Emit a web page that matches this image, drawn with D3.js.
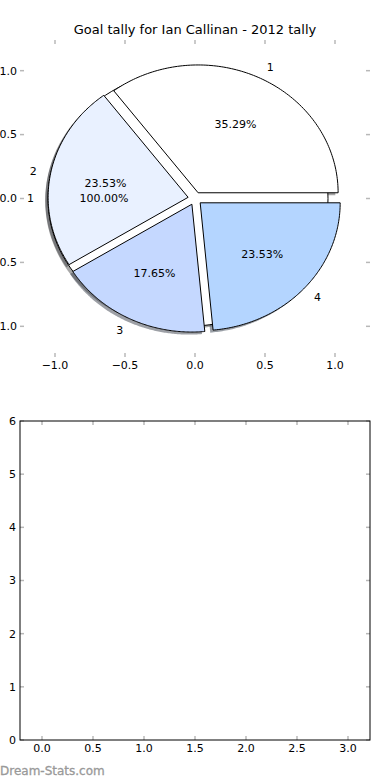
<!DOCTYPE html>
<html>
<head>
<meta charset="utf-8">
<script src="https://cdn.jsdelivr.net/npm/d3@7"></script>
<style>
  body { margin: 0; background: #fff; }
  text { font-family: "DejaVu Sans", sans-serif; }
</style>
</head>
<body>
<script>
// chart data
const title = 'Goal tally for Ian Callinan - 2012 tally';
const sliceLabels = ['1', '2', '3', '4'];
const sliceValues = [6, 4, 3, 4];          // 35.29%, 23.53%, 17.65%, 23.53%
const sliceColors = ['#ffffff', '#e9f1ff', '#c5d8ff', '#b4d5ff'];
const totalLabels = ['1'];
const totalValues = [1];                  // 100.00%
const pieTicks = [-1.0, -0.5, 0.0, 0.5, 1.0];
const barXTicks = [0.0, 0.5, 1.0, 1.5, 2.0, 2.5, 3.0];
const barYTicks = [0, 1, 2, 3, 4, 5, 6];

const explode = 0.05;
const W = 390, H = 780;

const svg = d3.select('body').append('svg')
  .attr('width', W)
  .attr('height', H);

// ---- top axes (pie) ----
const px = d3.scaleLinear().domain([-1.25, 1.25]).range([20, 370]);
const py = d3.scaleLinear().domain([-1.24, 1.24]).range([357, 40]);

svg.append('text')
  .attr('x', 195).attr('y', 34)
  .attr('text-anchor', 'middle')
  .style('font-size', '13px')
  .text(title);

// d3.pie goes clockwise from 12 o'clock; flip it to matplotlib's ccw from 3 o'clock
const pie = d3.pie().sort(null).startAngle(Math.PI / 2).endAngle(Math.PI / 2 - 2 * Math.PI);
const toMath = a => Math.PI / 2 - a;

function wedgePoints(d, dx, dy) {
  const t0 = toMath(d.startAngle), t1 = toMath(d.endAngle);
  const mid = (t0 + t1) / 2;
  const cx = explode * Math.cos(mid) + dx, cy = explode * Math.sin(mid) + dy;
  const full = Math.abs(t1 - t0) > 2 * Math.PI - 1e-6;
  const pts = full ? [] : [[cx, cy]];
  const n = 120;
  for (let i = 0; i <= n; i++) {
    const t = t0 + (t1 - t0) * i / n;
    pts.push([cx + Math.cos(t), cy + Math.sin(t)]);
  }
  return pts;
}

const line = d3.line().x(p => px(p[0])).y(p => py(p[1])).curve(d3.curveLinearClosed);

const totalArcs = pie(totalValues).map((d, i) => ({ ...d, label: totalLabels[i], color: '#ffffff', total: d3.sum(totalValues) }));
const sliceArcs = pie(sliceValues).map((d, i) => ({ ...d, label: sliceLabels[i], color: sliceColors[i], total: d3.sum(sliceValues) }));
const allArcs = totalArcs.concat(sliceArcs);

// shadows first (below every wedge)
svg.append('g').selectAll('path.shadow')
  .data(allArcs)
  .enter().append('path')
  .attr('class', 'shadow')
  .attr('d', d => line(wedgePoints(d, -0.02, -0.02)))
  .attr('fill', d => { const c = d3.rgb(d.color); return d3.rgb(c.r * 0.3, c.g * 0.3, c.b * 0.3); })
  .attr('fill-opacity', 0.5)
  .attr('stroke', 'none');

svg.append('g').selectAll('path.wedge')
  .data(allArcs)
  .enter().append('path')
  .attr('class', 'wedge')
  .attr('d', d => line(wedgePoints(d, 0, 0)))
  .attr('fill', d => d.color)
  .attr('stroke', '#000')
  .attr('stroke-width', 1)
  .attr('stroke-linejoin', 'round');

function labelPos(d, dist) {
  const mid = (toMath(d.startAngle) + toMath(d.endAngle)) / 2;
  return [ (explode + dist) * Math.cos(mid), (explode + dist) * Math.sin(mid), mid ];
}

svg.append('g').selectAll('text.lbl')
  .data(allArcs)
  .enter().append('text')
  .attr('class', 'lbl')
  .each(function(d) {
    const [lx, ly, mid] = labelPos(d, 1.1);
    d3.select(this)
      .attr('x', px(lx)).attr('y', py(ly))
      .attr('dy', '0.35em')
      .attr('text-anchor', Math.cos(mid) < 0 ? 'end' : 'start');
  })
  .style('font-size', '11px')
  .text(d => d.label);

svg.append('g').selectAll('text.pct')
  .data(allArcs)
  .enter().append('text')
  .attr('class', 'pct')
  .attr('x', d => px(labelPos(d, 0.6)[0]))
  .attr('y', d => py(labelPos(d, 0.6)[1]))
  .attr('dy', '0.35em')
  .attr('text-anchor', 'middle')
  .style('font-size', '11px')
  .text(d => d3.format('.2f')(d.value / d.total * 100) + '%');

// pie axes ticks (no spines)
const fmt1 = v => d3.format('.1f')(v).replace('-', '\u2212');
const tickCol = '#b8b8b8';
const pt = svg.append('g');
pieTicks.forEach(v => {
  pt.append('line').attr('x1', px(v)).attr('x2', px(v)).attr('y1', 40).attr('y2', 44).attr('stroke', tickCol).attr('stroke-width', 1.5);
  pt.append('line').attr('x1', px(v)).attr('x2', px(v)).attr('y1', 357).attr('y2', 353).attr('stroke', tickCol).attr('stroke-width', 1.5);
  pt.append('line').attr('y1', py(v)).attr('y2', py(v)).attr('x1', 20).attr('x2', 24).attr('stroke', tickCol).attr('stroke-width', 1.5);
  pt.append('line').attr('y1', py(v)).attr('y2', py(v)).attr('x1', 370).attr('x2', 366).attr('stroke', tickCol).attr('stroke-width', 1.5);
  pt.append('text').attr('x', px(v)).attr('y', 369).attr('text-anchor', 'middle').style('font-size', '11px').text(fmt1(v));
  pt.append('text').attr('x', 17).attr('y', py(v)).attr('dy', '0.35em').attr('text-anchor', 'end').style('font-size', '11px').text(fmt1(v));
});

// ---- bottom axes (empty) ----
const bx = d3.scaleLinear().domain([-0.2157, 3.2157]).range([20, 370]);
const by = d3.scaleLinear().domain([0, 6]).range([740, 421]);
const bt = svg.append('g');

barXTicks.forEach(v => {
  bt.append('line').attr('x1', bx(v)).attr('x2', bx(v)).attr('y1', 421).attr('y2', 425).attr('stroke', tickCol).attr('stroke-width', 1.5);
  bt.append('line').attr('x1', bx(v)).attr('x2', bx(v)).attr('y1', 740).attr('y2', 736).attr('stroke', tickCol).attr('stroke-width', 1.5);
  bt.append('text').attr('x', bx(v)).attr('y', 752).attr('text-anchor', 'middle').style('font-size', '11px').text(d3.format('.1f')(v));
});
barYTicks.forEach(v => {
  bt.append('line').attr('y1', by(v)).attr('y2', by(v)).attr('x1', 20).attr('x2', 24).attr('stroke', tickCol).attr('stroke-width', 1.5);
  bt.append('line').attr('y1', by(v)).attr('y2', by(v)).attr('x1', 370).attr('x2', 366).attr('stroke', tickCol).attr('stroke-width', 1.5);
  bt.append('text').attr('x', 16).attr('y', by(v)).attr('dy', '0.35em').attr('text-anchor', 'end').style('font-size', '11px').text(v);
});

bt.append('rect')
  .attr('x', 20).attr('y', 421)
  .attr('width', 350).attr('height', 319)
  .attr('fill', 'none')
  .attr('stroke', '#000')
  .attr('stroke-width', 1);

svg.append('text')
  .attr('x', 0).attr('y', 775)
  .style('font-size', '12px')
  .attr('fill', '#999999')
  .attr('stroke', '#999999')
  .attr('stroke-width', 0.3)
  .text('Dream-Stats.com');
</script>
</body>
</html>
